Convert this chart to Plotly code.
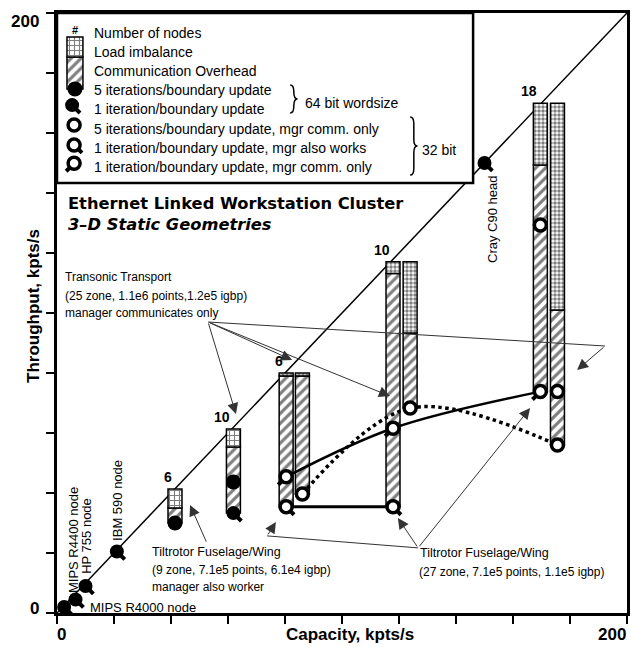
import plotly.graph_objects as go

FONT = "Liberation Sans, Arial, Helvetica, sans-serif"

# ideal speed-up line (throughput == capacity)
ideal = [0, 200]

# single machines, 64 bit, 1 iteration/boundary update
node_names = ["MIPS R4000 node", "MIPS R4400 node", "HP 755 node", "IBM 590 node", "Cray C90 head"]
node_capacity = [2.5, 6.5, 10.0, 21.0, 150.0]
node_throughput = [2.0, 4.5, 9.0, 20.5, 150.0]

# 64 bit cluster (Tiltrotor, 9 zone)
c64_nodes = ["6", "10"]
c64_capacity = [41.4, 61.9]
c64_base = [30.0, 33.3]
c64_comm_top = [35.0, 55.3]
c64_top = [41.3, 61.3]
c64_5iter = [30.0, 43.7]
c64_1iter_x = [61.9]
c64_1iter = [33.3]

# 32 bit cluster, left/right bar of each pair
c32_nodes = ["6", "10", "18"]
c32_left_x = [80.4, 117.9, 169.6]
c32_right_x = [86.1, 123.9, 175.6]
c32_left_base = [35.4, 35.4, 73.8]
c32_left_comm_top = [79.0, 113.2, 149.3]
c32_right_base = [39.7, 68.3, 56.0]
c32_right_comm_top = [79.0, 93.3, 101.0]
c32_top = [80.0, 117.1, 169.9]

# 32 bit markers
mgr_only_5_x = [86.1, 123.9, 175.6]
mgr_only_5_y = [39.7, 68.3, 56.0]
extra_5_x = [175.6, 169.6]
extra_5_y = [73.8, 129.3]
mgr_only_1_x = [80.4, 117.9, 169.6]
mgr_only_1_y = [45.4, 61.6, 73.8]
mgr_works_1_x = [80.4, 117.9]
mgr_works_1_y = [35.4, 35.4]

# annotation pointers: (source, tip)
transonic_src = (53.0, 97.0)
transonic_tips = [(62.8, 66.3), (82.5, 84.3), (116.8, 72.3)]
transonic_corner = (192.3, 89.0)
transonic_corner_tip = (182.5, 81.0)
tilt9_src = (52.6, 23.3)
tilt9_tip = (46.7, 36.0)
tilt27_src = (126.7, 21.7)
tilt27_tips = [(119.6, 31.7), (166.0, 68.3)]
tilt27_corner = (73.7, 25.7)
tilt27_corner_tip = (76.8, 30.3)

HATCH = dict(shape="/", fgcolor="black", bgcolor="white", size=7, solidity=0.45, fillmode="overlay")
GRID = dict(shape="+", fgcolor="black", bgcolor="white", size=5, solidity=0.4, fillmode="overlay")
DOTS = dict(shape=".", fgcolor="black", bgcolor="white", size=4, solidity=0.6, fillmode="overlay")
OUTLINE = dict(color="black", width=1.5)

fig = go.Figure()

# ideal line and legend box (box hides the line behind it)
fig.add_shape(type="line", x0=ideal[0], y0=ideal[0], x1=ideal[1], y1=ideal[1],
              line=dict(color="black", width=1.5), layer="below")
fig.add_shape(type="rect", x0=0, x1=146, y0=143.3, y1=200, fillcolor="white",
              line=dict(color="black", width=2.5), layer="below")


def add_bar(xs, base, top, pattern, width=4.9):
    fig.add_trace(go.Bar(x=xs, y=[t - b for t, b in zip(top, base)], base=base, width=width,
                         marker=dict(color="white", pattern=pattern, line=OUTLINE),
                         hoverinfo="skip"))


add_bar(c64_capacity, c64_base, c64_comm_top, HATCH)
add_bar(c64_capacity, c64_comm_top, c64_top, GRID)
add_bar(c32_left_x, c32_left_base, c32_left_comm_top, HATCH)
add_bar(c32_left_x, c32_left_comm_top, c32_top, DOTS)
add_bar(c32_right_x, c32_right_base, c32_right_comm_top, HATCH)
add_bar(c32_right_x, c32_right_comm_top, c32_top, DOTS)

# legend icon bar
add_bar([6.3], [174.7], [185.3], HATCH, width=5.6)
add_bar([6.3], [185.3], [192.0], GRID, width=5.6)

# connecting curves
fig.add_trace(go.Scatter(x=mgr_only_1_x, y=mgr_only_1_y, mode="lines",
                         line=dict(color="black", width=2.5, shape="spline")))
fig.add_trace(go.Scatter(x=mgr_only_5_x, y=mgr_only_5_y, mode="lines",
                         line=dict(color="black", width=3.5, dash="dot", shape="spline")))
fig.add_trace(go.Scatter(x=mgr_works_1_x, y=mgr_works_1_y, mode="lines",
                         line=dict(color="black", width=3)))

# annotation lines with a corner
for src, corner in [(transonic_src, transonic_corner), (tilt27_src, tilt27_corner)]:
    fig.add_trace(go.Scatter(x=[src[0], corner[0]], y=[src[1], corner[1]], mode="lines",
                             line=dict(color="#333", width=1)))


def tails(xs, ys, angle, color="black"):
    # standoff pushes the stroke away from the point, opposite to `angle`
    fig.add_trace(go.Scatter(x=xs, y=ys, mode="markers",
                             marker=dict(symbol="line-ns", size=6, angle=angle, standoff=7,
                                         line=dict(color=color, width=4))))


def filled(xs, ys, size=14):
    fig.add_trace(go.Scatter(x=xs, y=ys, mode="markers",
                             marker=dict(symbol="circle", size=size, color="black")))


def hollow(xs, ys):
    fig.add_trace(go.Scatter(x=xs, y=ys, mode="markers",
                             marker=dict(symbol="circle", size=12, color="white",
                                         line=dict(color="black", width=3.5))))


# 64 bit markers
tails(node_capacity + c64_1iter_x + [5.3], node_throughput + c64_1iter + [169.3], -45)
filled(node_capacity + c64_1iter_x + [5.3], node_throughput + c64_1iter + [169.3])
filled(c64_capacity + [6.3], c64_5iter + [174.7], size=15)

# 32 bit markers
tails(mgr_works_1_x + [6.0], mgr_works_1_y + [156.0], -45)
tails(mgr_only_1_x + [6.0], mgr_only_1_y + [149.9], 45)
hollow(mgr_only_5_x + extra_5_x + [6.0], mgr_only_5_y + extra_5_y + [162.7])
hollow(mgr_works_1_x + [6.0], mgr_works_1_y + [156.0])
hollow(mgr_only_1_x + [6.0], mgr_only_1_y + [149.9])

annotations = []


def note(x, y, text, size=12, **kw):
    d = dict(x=x, y=y, xref="x", yref="y", text=text, showarrow=False,
             font=dict(family=FONT, size=size, color="black"), xanchor="left")
    d.update(kw)
    annotations.append(d)


def arrow(src, tip):
    annotations.append(dict(x=tip[0], y=tip[1], ax=src[0], ay=src[1], xref="x", yref="y",
                            axref="x", ayref="y", text="", showarrow=True, arrowhead=2,
                            arrowsize=2.2, arrowwidth=1, arrowcolor="#333"))


for t in transonic_tips:
    arrow(transonic_src, t)
arrow(transonic_corner, transonic_corner_tip)
arrow(tilt9_src, tilt9_tip)
for t in tilt27_tips:
    arrow(tilt27_src, t)
arrow(tilt27_corner, tilt27_corner_tip)

# node count labels
for x, top, n in zip(c64_capacity + c32_left_x, c64_top + c32_top, c64_nodes + c32_nodes):
    note(x, top, "<b>%s</b>" % n, size=14, xanchor="right", yanchor="bottom", xshift=-1, yshift=2)

# machine labels
note(10.9, 1.7, "MIPS R4000 node", size=13)
for x, y, t in [(5.6, 24.3, "MIPS R4400 node"), (10.5, 25.7, "HP 755 node"),
                (21.4, 37.7, "IBM 590 node"), (152.6, 131.3, "Cray C90 head")]:
    note(x, y, t, size=13, textangle=-90, xanchor="center")

# case descriptions
note(2.1, 112.0, "Transonic Transport", size=12)
note(2.1, 105.7, "(25 zone, 1.1e6 points,1.2e5 igbp)", size=12)
note(2.1, 100.0, "manager communicates only", size=12)
note(32.6, 20.3, "Tiltrotor Fuselage/Wing", size=12.5)
note(32.6, 14.3, "(9 zone, 7.1e5 points, 6.1e4 igbp)", size=12)
note(32.6, 8.7, "manager also worker", size=12)
note(126.7, 20.0, "Tiltrotor Fuselage/Wing", size=12.5)
note(126.3, 13.7, "(27 zone, 7.1e5 points, 1.1e5 igbp)", size=12)

# title
note(3.0, 133.0, "<b>Ethernet Linked Workstation Cluster</b><br><b><i>3\u2013D Static Geometries</i></b>",
     align="left", yanchor="middle",
     font=dict(family="DejaVu Sans, Liberation Sans, sans-serif", size=16.3, color="black"))

# legend text
legend_rows = ["Number of nodes", "Load imbalance", "Communication Overhead",
               "5 iterations/boundary update", "1 iteration/boundary update",
               "5 iterations/boundary update, mgr comm. only",
               "1 iteration/boundary update, mgr also works",
               "1 iteration/boundary update, mgr comm. only"]
legend_y = [193.2, 186.9, 180.7, 174.3, 168.0, 161.2, 155.1, 148.8]
for y, t in zip(legend_y, legend_rows):
    note(12.3, y, t, size=14)
note(6.3, 194.3, "<b>#</b>", size=11, xanchor="center")
note(86.3, 170.0, "64 bit wordsize", size=14)
note(127.4, 154.3, "32 bit", size=14)


def brace(x0, yt, yb, w, r=2.2):
    xm, x1, ym = x0 + w / 2, x0 + w, (yt + yb) / 2
    return ("M %f,%f Q %f,%f %f,%f L %f,%f Q %f,%f %f,%f Q %f,%f %f,%f L %f,%f Q %f,%f %f,%f"
            % (x0, yt, xm, yt, xm, yt - r, xm, ym + r, xm, ym, x1, ym,
               xm, ym, xm, ym - r, xm, yb + r, xm, yb, x0, yb))


fig.add_shape(type="path", path=brace(81.8, 176.0, 166.7, 2.6), line=dict(color="black", width=1.5))
fig.add_shape(type="path", path=brace(123.9, 165.3, 146.0, 2.6), line=dict(color="black", width=1.5))

# tick labels and axis titles
TICKF = dict(family=FONT, size=17, color="black")
annotations += [
    dict(x=0, y=200, xref="x", yref="y", text="<b>200</b>", showarrow=False, font=TICKF,
         xanchor="right", yanchor="middle", xshift=-16, yshift=-8),
    dict(x=0, y=0, xref="x", yref="y", text="<b>0</b>", showarrow=False, font=TICKF,
         xanchor="right", yanchor="middle", xshift=-16, yshift=5),
    dict(x=0, y=0, xref="x", yref="y", text="<b>0</b>", showarrow=False, font=TICKF,
         xanchor="center", yanchor="middle", xshift=4, yshift=-21),
    dict(x=200, y=0, xref="x", yref="y", text="<b>200</b>", showarrow=False, font=TICKF,
         xanchor="center", yanchor="middle", xshift=-15, yshift=-21),
    dict(x=0.514, y=-0.036, xref="paper", yref="paper", text="<b>Capacity, kpts/s</b>",
         showarrow=False, font=dict(family=FONT, size=17, color="black"), yanchor="middle"),
    dict(x=-0.04, y=0.512, xref="paper", yref="paper", text="<b>Throughput, kpts/s</b>",
         showarrow=False, font=dict(family=FONT, size=17, color="black"), textangle=-90,
         xanchor="center"),
]

axis = dict(range=[0, 200], tickvals=list(range(0, 201, 20)), showticklabels=False,
            ticks="outside", ticklen=8, tickwidth=2, tickcolor="black", showline=True,
            linewidth=3, linecolor="black", mirror=True, showgrid=False, zeroline=False,
            automargin=False)

fig.update_layout(
    width=632, height=647,
    margin=dict(l=57, r=5, t=13, b=34, autoexpand=False),
    showlegend=False, barmode="overlay",
    plot_bgcolor="white", paper_bgcolor="white",
    xaxis=axis, yaxis=axis,
    annotations=annotations,
    font=dict(family=FONT, color="black"),
)

fig.write_html("out.html", config={"displayModeBar": False},
               post_script="document.body.style.margin='0px';")
